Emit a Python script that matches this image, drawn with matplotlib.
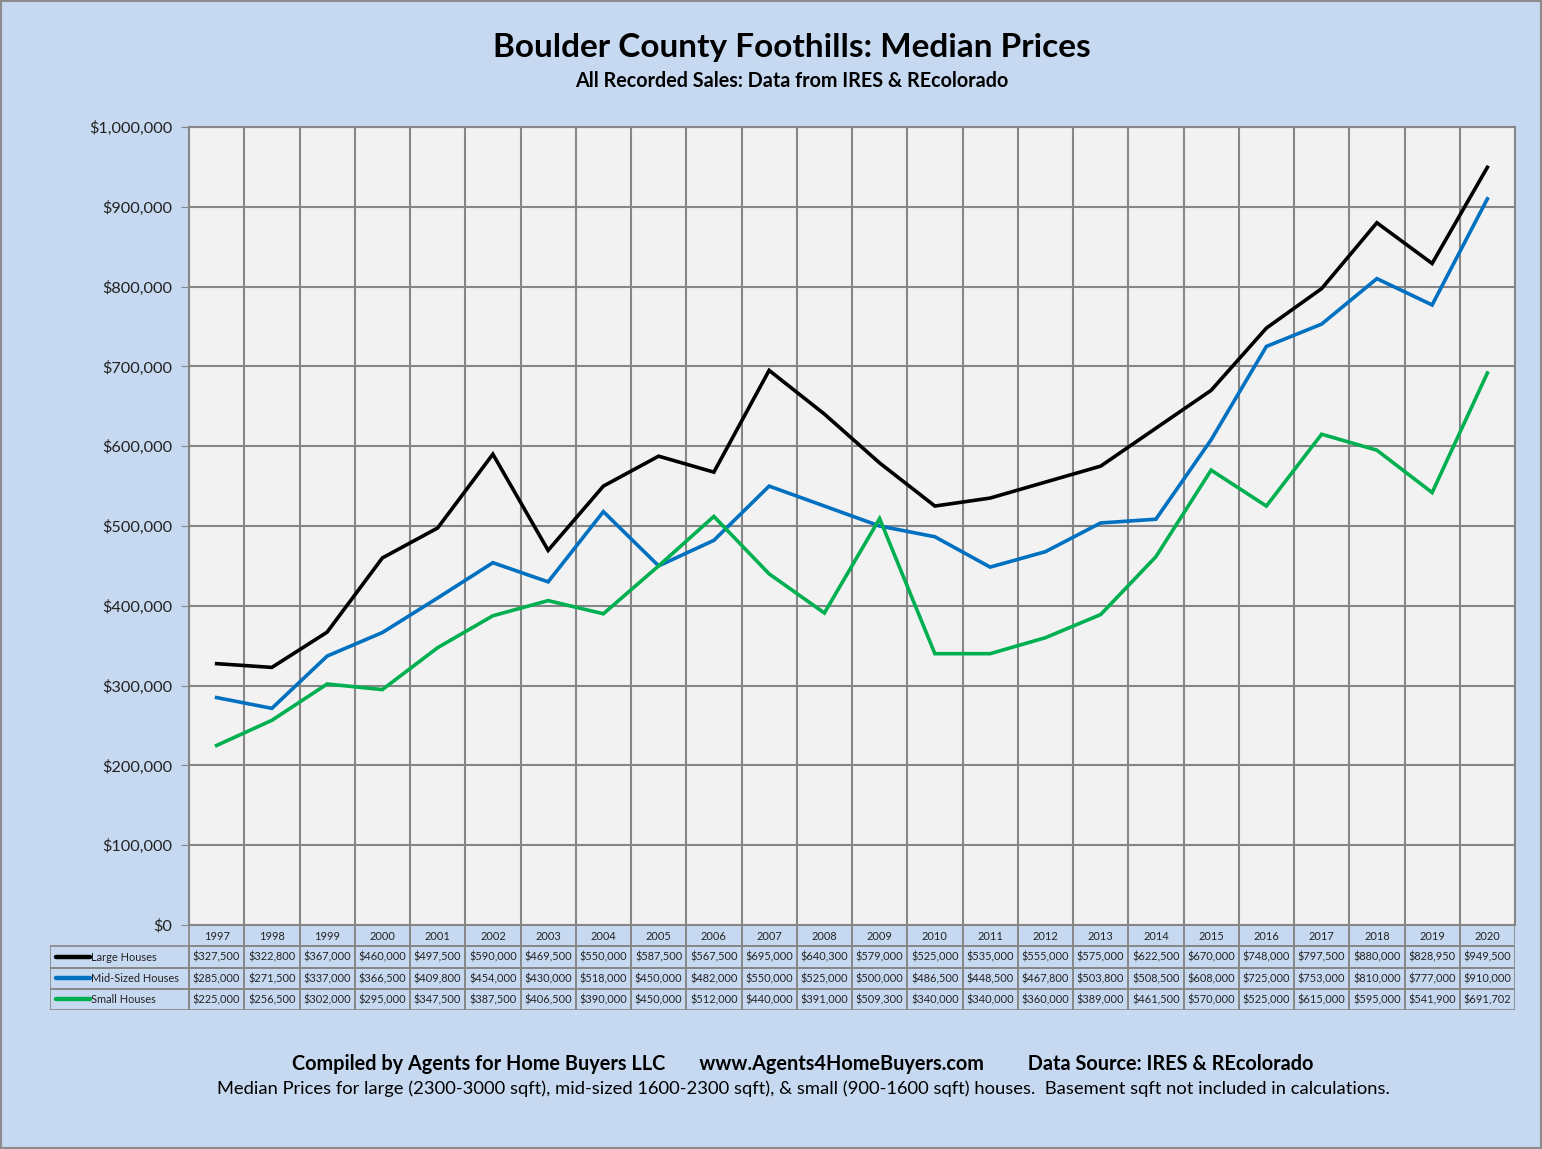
import matplotlib
matplotlib.use("Agg")
import matplotlib.pyplot as plt
from matplotlib.patches import Rectangle
from matplotlib.lines import Line2D
from matplotlib.ticker import FuncFormatter, MultipleLocator

years = ["1997","1998","1999","2000","2001","2002","2003","2004","2005","2006","2007","2008",
         "2009","2010","2011","2012","2013","2014","2015","2016","2017","2018","2019","2020"]
large = [327500,322800,367000,460000,497500,590000,469500,550000,587500,567500,695000,640300,
         579000,525000,535000,555000,575000,622500,670000,748000,797500,880000,828950,949500]
mid = [285000,271500,337000,366500,409800,454000,430000,518000,450000,482000,550000,525000,
       500000,486500,448500,467800,503800,508500,608000,725000,753000,810000,777000,910000]
small = [225000,256500,302000,295000,347500,387500,406500,390000,450000,512000,440000,391000,
         509300,340000,340000,360000,389000,461500,570000,525000,615000,595000,541900,691702]
series_names = ["Large Houses", "Mid-Sized Houses", "Small Houses"]
series_colors = ["#000000", "#0070C0", "#00B050"]

plt.rcParams['font.family'] = ['Lato', 'DejaVu Sans']

W, H = 1542, 1149
fig = plt.figure(figsize=(W/100, H/100), dpi=100)
fig.patch.set_facecolor("#C6D9F1")
fig.patches.append(Rectangle((0.0005, 0.0005), 0.999, 0.999, transform=fig.transFigure,
                             fill=False, edgecolor="#8C8C8C", lw=1.5))

def px(x0, y0, x1, y1):
    return [x0/W, 1-y1/H, (x1-x0)/W, (y1-y0)/H]

L, R, T, B = 189, 1515, 127, 925
ax = fig.add_axes(px(L, T, R, B))
ax.set_facecolor("#F2F2F2")
n = len(years)
xs = list(range(n))
for vals, c in zip([large, mid, small], series_colors):
    ax.plot(xs, vals, color=c, lw=2.6, solid_joinstyle='miter', zorder=3)
ax.set_xlim(-0.5, n-0.5)
ax.set_ylim(0, 1000000)
ax.yaxis.set_major_locator(MultipleLocator(100000))
ax.yaxis.set_major_formatter(FuncFormatter(lambda v, p: "$0" if v == 0 else f"${v:,.0f}"))
ax.set_xticks([i-0.5 for i in range(n+1)])
ax.set_xticklabels([])
ax.tick_params(axis='x', length=0)
ax.tick_params(axis='y', length=6, color="#868686", labelsize=11.7, pad=6, labelcolor="#222222")
ax.grid(True, color="#868686", lw=1.5)
ax.set_axisbelow(True)
for s in ax.spines.values():
    s.set_color("#868686"); s.set_linewidth(1.5)

# table
lab_w = (L - 50) / ((R - L) / n)
axt = fig.add_axes(px(50, 925, R, 1010))
axt.set_xlim(-0.5 - lab_w, n - 0.5)
axt.set_ylim(4, 0)
axt.axis('off')
gc = "#868686"
fs = 7.9
for i, y in enumerate(years):
    axt.add_patch(Rectangle((i-0.5, 0), 1, 1, fill=False, edgecolor=gc, lw=1.2))
    axt.text(i, 0.55, y, ha='center', va='center', fontsize=fs, color="#222222")
for r, (nm, vals, c) in enumerate(zip(series_names, [large, mid, small], series_colors)):
    yy = r + 1
    axt.add_patch(Rectangle((-0.5-lab_w, yy), lab_w, 1, fill=False, edgecolor=gc, lw=1.2))
    axt.plot([-0.5-lab_w+0.1, -0.5-lab_w+0.72], [yy+0.5, yy+0.5], color=c, lw=3.2,
             solid_capstyle='round')
    axt.text(-0.5-lab_w+0.74, yy+0.52, nm, ha='left', va='center', fontsize=fs, color="#222222")
    for i, v in enumerate(vals):
        axt.add_patch(Rectangle((i-0.5, yy), 1, 1, fill=False, edgecolor=gc, lw=1.2))
        axt.text(i, yy+0.52, f"${v:,.0f}", ha='center', va='center', fontsize=fs,
                 color="#222222")

fig.text(792/W, 1-47/H, "Boulder County Foothills: Median Prices", ha='center', va='center',
         fontsize=24, fontweight='bold')
fig.text(792/W, 1-81/H, "All Recorded Sales: Data from IRES & REcolorado", ha='center',
         va='center', fontsize=14.2, fontweight='bold')
fig.text(803/W, 1-1064/H,
         "Compiled by Agents for Home Buyers LLC       www.Agents4HomeBuyers.com         Data Source: IRES & REcolorado",
         ha='center', va='center', fontsize=14.3, fontweight='bold')
fig.text(803/W, 1-1089/H,
         "Median Prices for large (2300-3000 sqft), mid-sized 1600-2300 sqft), & small (900-1600 sqft) houses.  Basement sqft not included in calculations.",
         ha='center', va='center', fontsize=13.2)

fig.savefig("out.png", dpi=100, facecolor=fig.get_facecolor())
